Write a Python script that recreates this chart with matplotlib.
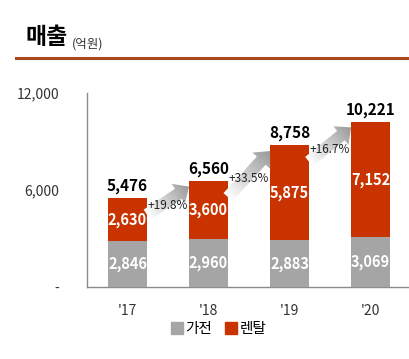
import numpy as np
import matplotlib
matplotlib.use("Agg")
import matplotlib.pyplot as plt
from matplotlib.patches import FancyArrow
from matplotlib.transforms import IdentityTransform
from matplotlib.colors import LinearSegmentedColormap
from matplotlib.lines import Line2D

plt.rcParams['font.family'] = ['Noto Sans CJK KR', 'DejaVu Sans']

# data (억원)
years = ["'17", "'18", "'19", "'20"]
appliance = [2846, 2960, 2883, 3069]   # 가전
rental = [2630, 3600, 5875, 7152]      # 렌탈
totals = [5476, 6560, 8758, 10221]
growth = ["+19.8%", "+33.5%", "+16.7%"]
yticks = [0, 6000, 12000]
yticklabels = ["-", "6,000", "12,000"]

gray = "#A5A5A5"
red = "#C93300"
bw = 0.48

fig = plt.figure(figsize=(4.10, 3.59), dpi=100)
ax = fig.add_axes([87/410, 72/359, 324/410, 194/359])
x = np.arange(len(years))

ax.bar(x, appliance, bw, color=gray, zorder=3)
ax.bar(x, rental, bw, bottom=appliance, color=red, zorder=3)

for i in x:
    ax.text(i, appliance[i]/2, f"{appliance[i]:,}", ha='center', va='center',
            color='white', fontsize=10.5, fontweight='bold', zorder=5)
    ax.text(i, appliance[i] + rental[i]/2, f"{rental[i]:,}", ha='center', va='center',
            color='white', fontsize=10.5, fontweight='bold', zorder=5)
    ax.annotate(f"{totals[i]:,}", (i, totals[i]), xytext=(0, 3), textcoords='offset points',
                ha='center', va='bottom', fontsize=11, fontweight='bold', color='black')

ax.set_xlim(-0.5, 3.5)
ax.set_ylim(0, 12000)
ax.set_yticks(yticks)
ax.set_yticklabels(yticklabels, fontsize=10, color='#333333')
ax.set_xticks(x)
ax.set_xticklabels(years, fontsize=10, color='#333333')
ax.tick_params(axis='y', length=0, pad=20)
ax.tick_params(axis='x', length=0, pad=12)
for s in ['top', 'right']:
    ax.spines[s].set_visible(False)
for s in ['left', 'bottom']:
    ax.spines[s].set_color('#8C8C8C')
    ax.spines[s].set_linewidth(1)

# gradient arrows between bars
cmap = LinearSegmentedColormap.from_list('g', ['#FFFFFF', '#999999'])
for i in range(len(years) - 1):
    x0, y0 = i + bw/2, totals[i] - 1000
    x1, y1 = i + 1 - bw/2, totals[i+1] - 350
    p0 = ax.transData.transform((x0, y0))
    p1 = ax.transData.transform((x1, y1))
    d = p1 - p0
    arr = FancyArrow(p0[0], p0[1], d[0], d[1], width=12, head_width=24, head_length=13,
                     length_includes_head=True, transform=IdentityTransform())
    ex = [x0 - 0.1, x1 + 0.1, y0 - 1200, y1 + 1200]
    gx = np.linspace(ex[0], ex[1], 120)
    gy = np.linspace(ex[3], ex[2], 120)
    GX, GY = np.meshgrid(gx, gy)
    P = ax.transData.transform(np.column_stack([GX.ravel(), GY.ravel()]))
    t = ((P - p0) @ d) / (d @ d)
    t = np.clip(t, 0, 1).reshape(GX.shape)
    im = ax.imshow(t, extent=ex, cmap=cmap, vmin=0, vmax=1, aspect='auto',
                   zorder=4, interpolation='bilinear')
    im.set_clip_path(arr)
    ax.text(i + 0.5, (y0 + y1)/2 - 300, growth[i], ha='center', va='center',
            fontsize=8.5, color='#222222', zorder=6)

ax.set_xlim(-0.5, 3.5)
ax.set_ylim(0, 12000)

# title and rule
fig.text(25/410, 1 - 38/359, "매출", fontsize=16.5, fontweight='bold', va='center', ha='left')
fig.text(72/410, 1 - 44/359, "(억원)", fontsize=9, va='center', ha='left', color='#333333')
fig.add_artist(Line2D([16/410, 1], [1 - 58/359, 1 - 58/359], color='#A8461F', lw=2.2))

handles = [Line2D([], [], marker='s', ls='', color=gray, markersize=8),
           Line2D([], [], marker='s', ls='', color=red, markersize=8)]
fig.legend(handles, ["가전", "렌탈"], loc='center', bbox_to_anchor=(218/410, 1 - 329/359),
           ncol=2, frameon=False, fontsize=10.5, handletextpad=0.1, columnspacing=0.8,
           handlelength=1.0)

fig.savefig("out.png", dpi=100)
